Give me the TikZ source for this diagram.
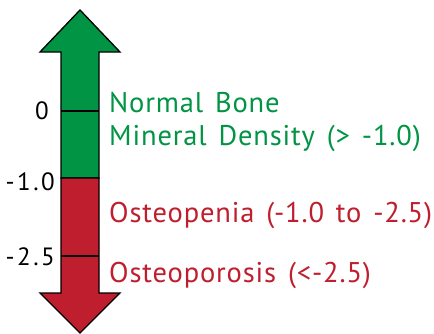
\documentclass[tikz,border=0pt]{standalone}
\usepackage{fontspec}
\setmainfont{PT Sans}
\newfontfamily\spacedfont[LetterSpace=3,WordSpace=1.4]{PT Sans}
\newfontfamily\labelfont[LetterSpace=10]{PT Sans}
\definecolor{bmdgreen}{HTML}{009444}
\definecolor{bmdred}{HTML}{BE1E2D}
\begin{document}
\begin{tikzpicture}[x=1pt,y=-1pt,
  part/.style={draw=black,line width=1.3pt,line join=miter},
  tick/.style={draw=black,line width=1.1pt},
  scorelabel/.style={anchor=base east,inner sep=0pt,font=\labelfont\fontsize{25}{28}\selectfont},
  catlabel/.style={anchor=base west,inner sep=0pt,font=\spacedfont\fontsize{28.5}{33.5}\selectfont}]
\useasboundingbox (0,0) rectangle (434,333);
% green upper part
\path[part,fill=bmdgreen] (80,10) -- (120,52) -- (99,52) -- (99,178) -- (61,178) -- (61,52) -- (40,52) -- cycle;
% red lower part
\path[part,fill=bmdred] (61,178) -- (99,178) -- (99,293) -- (120,293) -- (80,333) -- (40,293) -- (61,293) -- cycle;
% ticks
\coordinate (t0l) at (61,111); \coordinate (t0r) at (99,111);
\coordinate (t2l) at (61,256); \coordinate (t2r) at (99,256);
\draw[tick] (t0l) -- (t0r);
\draw[tick] (t2l) -- (t2r);
% score labels
\node[scorelabel] (l0) at (49,119) {0};
\node[scorelabel] (l1) at (55,190) {-1.0};
\node[scorelabel] (l2) at (55,265) {-2.5};
% category labels
\node[catlabel,text=bmdgreen] (n1) at (109,112) {Normal Bone};
\node[catlabel,text=bmdgreen] (n2) at (109,145.5) {Mineral Density (> -1.0)};
\node[catlabel,text=bmdred] (op) at (109,222) {Osteopenia (-1.0 to -2.5)};
\node[catlabel,text=bmdred] (os) at (109,282) {Osteoporosis (<-2.5)};
\end{tikzpicture}
\end{document}
